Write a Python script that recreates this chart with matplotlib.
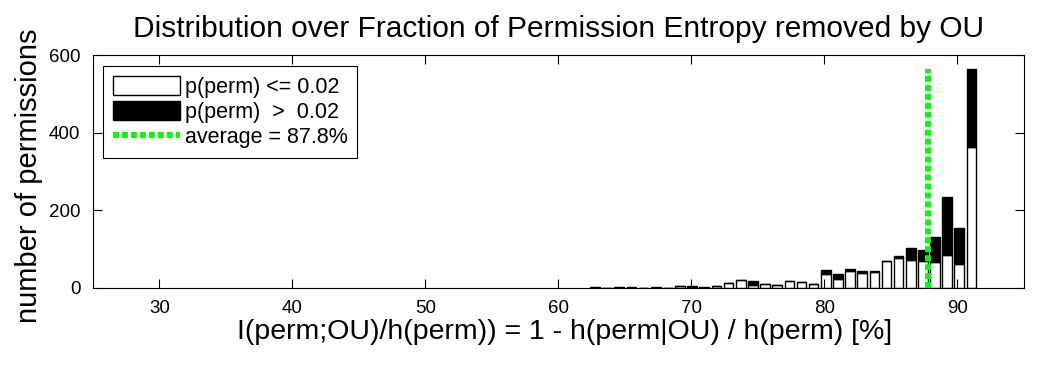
import matplotlib
matplotlib.use("Agg")
import matplotlib.pyplot as plt
from matplotlib.patches import Patch
from matplotlib.lines import Line2D

plt.rcParams['font.family'] = ['Liberation Sans', 'DejaVu Sans']

# bin centres (fraction of entropy removed, %)
bin_centers = [62.75, 63.66, 64.57, 65.49, 66.40, 67.31, 68.23, 69.14,
               70.05, 70.96, 71.88, 72.79, 73.70, 74.62, 75.53, 76.44,
               77.36, 78.27, 79.18, 80.09, 81.01, 81.92, 82.83, 83.75,
               84.66, 85.57, 86.48, 87.40, 88.31, 89.22, 90.14, 91.05]
# counts with p(perm) <= 0.02 (white, bottom)
low_counts = [0, 0, 0, 0, 0, 0, 0, 5,
              1, 0, 6, 12, 20, 9, 11, 8,
              18, 15, 11, 35, 22, 43, 38, 41,
              70, 76, 71, 69, 66, 84, 61, 362]
# counts with p(perm) > 0.02 (black, stacked on top)
high_counts = [2, 0, 2, 2, 0, 2, 0, 0,
               4, 2, 0, 0, 0, 9, 0, 0,
               0, 0, 0, 12, 13, 7, 7, 4,
               0, 7, 33, 30, 66, 151, 94, 203]
average = 87.8
line_top = 565

bar_width = 0.73

fig = plt.figure(figsize=(10.4, 3.68), dpi=100)
ax = fig.add_axes([0.0894, 0.2174, 0.8952, 0.6331])

ax.bar(bin_centers, low_counts, width=bar_width, color='white',
       edgecolor='black', linewidth=1.0)
ax.bar(bin_centers, high_counts, width=bar_width, bottom=low_counts,
       color='black', edgecolor='black', linewidth=1.0)
ax.plot([average, average], [0, line_top], color='#00ff00', linewidth=4.3,
        dashes=(1.0, 0.5), solid_capstyle='butt', dash_capstyle='butt')

ax.set_xlim(25, 95)
ax.set_ylim(0, 600)
ax.set_xticks([30, 40, 50, 60, 70, 80, 90])
ax.set_yticks([0, 200, 400, 600])
ax.tick_params(direction='in', length=6.5, width=0.8, top=True, right=True,
               labelsize=13.5, pad=9)
for s in ax.spines.values():
    s.set_linewidth(0.8)

ax.set_title('Distribution over Fraction of Permission Entropy removed by OU',
             fontsize=21.5, pad=13)
ax.set_xlabel('I(perm;OU)/h(perm)) = 1 - h(perm|OU) / h(perm) [%]',
              fontsize=20.5, labelpad=1)
ax.xaxis.label.set_x(0.507)
ax.set_ylabel('number of permissions', fontsize=21, labelpad=4.5)
ax.yaxis.label.set_y(0.481)

handles = [Patch(facecolor='white', edgecolor='black', linewidth=1.0),
           Patch(facecolor='black', edgecolor='black', linewidth=1.0),
           Line2D([0], [0], color='#00ff00', linewidth=4.3, dashes=(1.0, 0.5))]
labels = ['p(perm) <= 0.02', 'p(perm)  >  0.02', 'average = 87.8%']
leg = ax.legend(handles, labels, loc='upper left', bbox_to_anchor=(0.011, 0.953),
                borderaxespad=0, fontsize=15.5, handlelength=3.1,
                handleheight=1.0, handletextpad=0.25, labelspacing=0.15,
                borderpad=0.45, fancybox=False, framealpha=1, edgecolor='black')
leg.get_frame().set_linewidth(0.8)

fig.savefig('out.png', dpi=100)
